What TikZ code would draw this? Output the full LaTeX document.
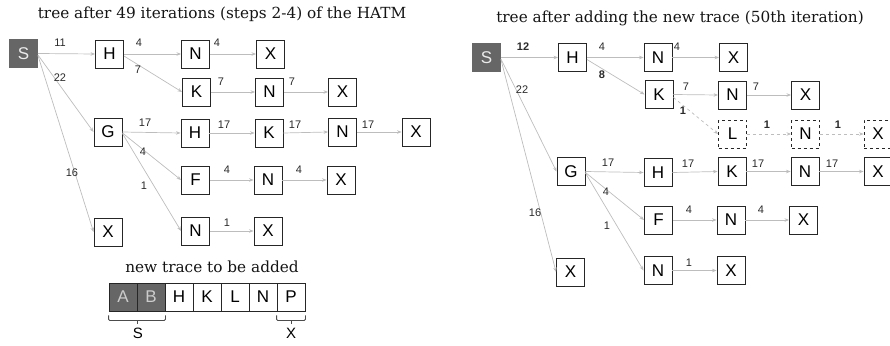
\documentclass[tikz,border=0pt]{standalone}
\usepackage{fontspec}
\setmainfont{DejaVu Serif}
\setsansfont{Liberation Sans}
\usetikzlibrary{arrows.meta}
\definecolor{edgegray}{HTML}{BDBDBD}
\definecolor{boxdark}{HTML}{666666}
\definecolor{lblc}{HTML}{2A2A2A}
\begin{document}
\begin{tikzpicture}[x=1pt,y=-1pt,
  box/.style={draw=black!85, line width=0.9pt, minimum size=28pt, inner sep=0pt,
    font=\sffamily\fontsize{17}{17}\selectfont, fill=white},
  sbox/.style={box, fill=boxdark, draw=boxdark, text=white!92!black},
  dbox/.style={box, dashed},
  tbox/.style={box, minimum width=28pt, minimum height=28pt, line width=0.8pt},
  tdark/.style={tbox, fill=boxdark, text=white!80!black},
  edge/.style={draw=edgegray, line width=0.7pt, -{Stealth[length=4.5pt,width=3.5pt]}},
  dedge/.style={edge, dashed},
  lbl/.style={font=\sffamily\fontsize{11}{11}\selectfont, text=lblc, inner sep=0pt},
  blbl/.style={font=\sffamily\bfseries\fontsize{11}{11}\selectfont, text=lblc, inner sep=0pt},
  ttl/.style={font=\fontsize{15.3}{15.3}\selectfont, text=black!92, inner sep=0pt},
  brk/.style={draw=black!70, line width=0.8pt, rounded corners=1pt},
  brklbl/.style={font=\sffamily\fontsize{15}{15}\selectfont, inner sep=0pt}
]
\useasboundingbox (0,0) rectangle (890,345);
\clip (0,0) rectangle (890,345);

% ---------------- left tree ----------------
\node[ttl] (tl) at (222,14) {tree after 49 iterations (steps 2-4) of the HATM};

\node[sbox] (S1) at (23.5,53.5) {S};
\node[box] (H1) at (109.5,54) {H};
\node[box] (N1a) at (195.5,54) {N};
\node[box] (X1a) at (270.5,54) {X};
\node[box] (K1) at (196.5,92) {K};
\node[box] (N1b) at (269.5,92) {N};
\node[box] (X1b) at (342.5,92) {X};
\node[box] (G1) at (108,132) {G};
\node[box] (H1g) at (195,133) {H};
\node[box] (K1g) at (269,133) {K};
\node[box] (N1g) at (342.5,132) {N};
\node[box] (X1g) at (416,132) {X};
\node[box] (F1) at (195.5,180) {F};
\node[box] (N1f) at (268,180) {N};
\node[box] (X1f) at (341,180) {X};
\node[box] (N1n) at (195.5,231) {N};
\node[box] (X1n) at (268,231) {X};
\node[box] (X1s) at (108,232) {X};

\draw[edge] (S1.east) -- (H1.west);
\draw[edge] ([yshift=-1.5pt]S1.east) -- (G1.west);
\draw[edge] ([yshift=-2pt]S1.east) -- (X1s.west);
\draw[edge] (H1.east) -- (N1a.west);
\draw[edge] ([yshift=-2pt]H1.east) -- (K1.west);
\draw[edge] (N1a.east) -- (X1a.west);
\draw[edge] (K1.east) -- (N1b.west);
\draw[edge] (N1b.east) -- (X1b.west);
\draw[edge] (G1.east) -- (H1g.west);
\draw[edge] (H1g.east) -- (K1g.west);
\draw[edge] (K1g.east) -- (N1g.west);
\draw[edge] (N1g.east) -- (X1g.west);
\draw[edge] ([yshift=-1pt]G1.east) -- (F1.west);
\draw[edge] (F1.east) -- (N1f.west);
\draw[edge] (N1f.east) -- (X1f.west);
\draw[edge] ([yshift=-1.5pt]G1.east) -- (N1n.west);
\draw[edge] (N1n.east) -- (X1n.west);

\node[lbl] (l1) at (60,43) {11};
\node[lbl] (l2) at (139,43) {4};
\node[lbl] (l3) at (217,43) {4};
\node[lbl] (l4) at (138,70) {7};
\node[lbl] (l5) at (221,82) {7};
\node[lbl] (l6) at (292,82) {7};
\node[lbl] (l7) at (60,78) {22};
\node[lbl] (l8) at (145,123) {17};
\node[lbl] (l9) at (224,125) {17};
\node[lbl] (l10) at (295,125) {17};
\node[lbl] (l11) at (368,125) {17};
\node[lbl] (l12) at (143,152) {4};
\node[lbl] (l13) at (144,186) {1};
\node[lbl] (l14) at (227,170) {4};
\node[lbl] (l15) at (299,170) {4};
\node[lbl] (l16) at (227,223) {1};
\node[lbl] (l17) at (72,173) {16};

% ---------------- trace ----------------
\node[ttl] (tt) at (212,267) {new trace to be added};
\node[tdark] (tA) at (123,297) {A};
\node[tdark] (tB) at (151,297) {B};
\node[tbox] (tH) at (179,297) {H};
\node[tbox] (tK) at (207,297) {K};
\node[tbox] (tL) at (235,297) {L};
\node[tbox] (tN) at (263,297) {N};
\node[tbox] (tP) at (291,297) {P};

\draw[brk] ([yshift=-4pt]tA.south west) -- ([yshift=-9pt]tA.south west)
  -- ([yshift=-9pt]tB.south east) -- ([yshift=-4pt]tB.south east);
\draw[brk] ([yshift=-9pt]tA.south east) -- ([yshift=-13pt]tA.south east);
\draw[brk] ([yshift=-4pt]tP.south west) -- ([yshift=-9pt]tP.south west)
  -- ([yshift=-9pt]tP.south east) -- ([yshift=-4pt]tP.south east);
\draw[brk] ([yshift=-9pt]tP.south) -- ([yshift=-13pt]tP.south);
\node[brklbl] (bS) at (138,333) {S};
\node[brklbl] (bX) at (291,333) {X};

% ---------------- right tree ----------------
\node[ttl] (tr) at (680,18) {tree after adding the new trace (50th iteration)};

\node[sbox] (S2) at (486.5,57.5) {S};
\node[box] (H2) at (572.5,57.5) {H};
\node[box] (N2a) at (658,57.5) {N};
\node[box] (X2a) at (733.5,57.5) {X};
\node[box] (K2) at (659,94.5) {K};
\node[box] (N2b) at (732.5,95) {N};
\node[box] (X2b) at (805.5,95) {X};
\node[dbox] (L2) at (732.5,134) {L};
\node[dbox] (N2l) at (805.5,134) {N};
\node[dbox] (X2l) at (878,134) {X};
\node[box] (G2) at (571,171.5) {G};
\node[box] (H2g) at (658,172.5) {H};
\node[box] (K2g) at (732,171.5) {K};
\node[box] (N2g) at (805,171.5) {N};
\node[box] (X2g) at (878,171.5) {X};
\node[box] (F2) at (658.5,220) {F};
\node[box] (N2f) at (731,220) {N};
\node[box] (X2f) at (803.5,220) {X};
\node[box] (X2s) at (570.5,272) {X};
\node[box] (N2n) at (658,270.5) {N};
\node[box] (X2n) at (731,270.5) {X};

\draw[edge] (S2.east) -- (H2.west);
\draw[edge] ([yshift=-1.5pt]S2.east) -- (G2.west);
\draw[edge] ([yshift=-2pt]S2.east) -- (X2s.west);
\draw[edge] (H2.east) -- (N2a.west);
\draw[edge] ([yshift=-2pt]H2.east) -- (K2.west);
\draw[edge] (N2a.east) -- (X2a.west);
\draw[edge] (K2.east) -- (N2b.west);
\draw[edge] (N2b.east) -- (X2b.west);
\draw[dedge] ([yshift=-3pt]K2.east) -- (L2.west);
\draw[dedge] (L2.east) -- (N2l.west);
\draw[dedge] (N2l.east) -- (X2l.west);
\draw[edge] (G2.east) -- (H2g.west);
\draw[edge] (H2g.east) -- (K2g.west);
\draw[edge] (K2g.east) -- (N2g.west);
\draw[edge] (N2g.east) -- (X2g.west);
\draw[edge] ([yshift=-1pt]G2.east) -- (F2.west);
\draw[edge] (F2.east) -- (N2f.west);
\draw[edge] (N2f.east) -- (X2f.west);
\draw[edge] ([yshift=-1.5pt]G2.east) -- (N2n.west);
\draw[edge] (N2n.east) -- (X2n.west);

\node[blbl] (r1) at (523,47) {12};
\node[lbl] (r2) at (602,47) {4};
\node[lbl] (r3) at (677,47) {4};
\node[blbl] (r4) at (602,75) {8};
\node[lbl] (r5) at (522,90) {22};
\node[lbl] (r6) at (686,87) {7};
\node[lbl] (r7) at (756,87) {7};
\node[blbl] (r8) at (683,111) {1};
\node[blbl] (r9) at (767,125) {1};
\node[blbl] (r10) at (838,125) {1};
\node[lbl] (r11) at (608,163) {17};
\node[lbl] (r12) at (688,164) {17};
\node[lbl] (r13) at (758,164) {17};
\node[lbl] (r14) at (832,164) {17};
\node[lbl] (r15) at (606,192) {4};
\node[lbl] (r16) at (535,213) {16};
\node[lbl] (r17) at (607,226) {1};
\node[lbl] (r18) at (689,210) {4};
\node[lbl] (r19) at (761,210) {4};
\node[lbl] (r20) at (689,263) {1};
\end{tikzpicture}
\end{document}
